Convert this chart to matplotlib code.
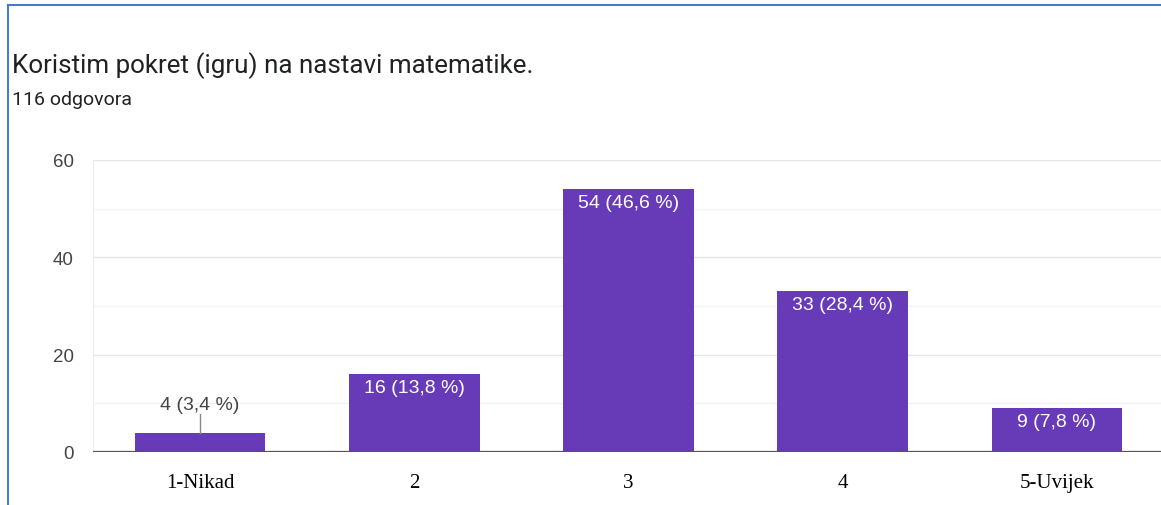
import matplotlib
matplotlib.use('Agg')
import matplotlib.pyplot as plt
from matplotlib.lines import Line2D

categories = ['1-Nikad', '2', '3', '4', '5-Uvijek']
counts = [4, 16, 54, 33, 9]
percents = ['3,4', '13,8', '46,6', '28,4', '7,8']
title = 'Koristim pokret (igru) na nastavi matematike.'
subtitle = '116 odgovora'
yticks = [0, 20, 40, 60]

purple = '#673ab7'

fig = plt.figure(figsize=(11.61, 5.06), dpi=100)
ax = fig.add_axes([93/1161, 53/506, 1 - 93/1161, 292/506])

x = list(range(len(categories)))
ax.bar(x, counts, width=0.61, color=purple, zorder=3)

ax.set_xlim(-0.5, 4.486)
ax.set_ylim(0, 60)

# grid: major every 20, minor every 10
for v in range(10, 61, 10):
    c = '#e6e6e6' if v % 20 == 0 else '#f3f3f3'
    ax.axhline(v, color=c, lw=1, zorder=1)
ax.axhline(0, color='#555555', lw=1.6, zorder=4)

for s in ['top', 'right', 'bottom']:
    ax.spines[s].set_visible(False)
ax.spines['left'].set_color('#eeeeee')

ax.set_yticks(yticks)
ax.set_yticklabels([str(t) for t in yticks], fontsize=13.5, color='#444444',
                   family='Liberation Sans')
ax.set_xticks(x)
ax.set_xticklabels(categories, fontsize=15, color='black', family='Liberation Serif')
ax.tick_params(axis='both', length=0)
ax.tick_params(axis='y', pad=14)
ax.tick_params(axis='x', pad=15)

for xi, c, p in zip(x, counts, percents):
    lab = '%d (%s %%)' % (c, p)
    if c < 8:
        ax.plot([xi, xi], [c, c + 3.8], color='#888888', lw=1, zorder=4)
        ax.text(xi, c + 4.0, lab, ha='center', va='bottom', fontsize=14,
                color='#444444', family='Liberation Sans')
    else:
        ax.text(xi, c - 0.9, lab, ha='center', va='top', fontsize=14,
                color='white', family='Liberation Sans', zorder=5)

fig.text(12/1161, 1 - 66/506, title, fontsize=18.7, family='Roboto',
         color='#202124', va='center', ha='left')
fig.text(12/1161, 1 - 100/506, subtitle, fontsize=14, family='Roboto',
         color='#202124', va='center', ha='left')

# blue frame
fig.add_artist(Line2D([8/1161, 8/1161], [0, 1 - 6/506], color='#4a7bd0', lw=1.5,
                      transform=fig.transFigure))
fig.add_artist(Line2D([8/1161, 1], [1 - 6/506, 1 - 6/506], color='#4a7bd0', lw=1.5,
                      transform=fig.transFigure))

fig.savefig('out.png', dpi=100)
